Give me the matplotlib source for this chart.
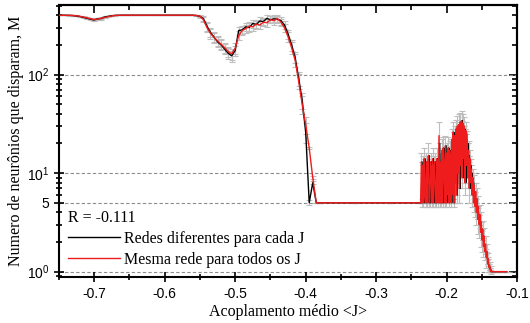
import numpy as np
import matplotlib
matplotlib.use("Agg")
import matplotlib.pyplot as plt
from matplotlib.ticker import FixedLocator, FixedFormatter, LogLocator, MultipleLocator, NullFormatter
from matplotlib.lines import Line2D

plt.rcParams['font.family'] = ['Liberation Serif', 'DejaVu Serif']

# --- data ---
# smooth part, J step 0.005 from -0.750 to -0.385
J_a = np.round(np.arange(-0.750, -0.3849, 0.005), 3)
same_a = [400, 400, 400, 399, 398, 395, 390, 383, 376, 368,
          362, 366, 373, 381, 388, 394, 398, 400, 400, 400,
          400, 400, 400, 400, 400, 400, 400, 400, 400, 400,
          400, 400, 400, 400, 400, 400, 400, 400, 400, 398,
          392, 360, 300, 262, 238, 220, 204, 188, 172, 162,
          185, 248, 280, 292, 310, 305, 325, 318, 340, 336,
          360, 352, 370, 340, 298, 242, 188, 140, 86, 50,
          31, 18, 9, 5]
diff_a = [400, 400, 400, 399, 397, 393, 388, 380, 372, 365,
          358, 368, 370, 384, 390, 395, 399, 400, 400, 400,
          400, 400, 400, 400, 400, 400, 400, 400, 400, 400,
          400, 400, 400, 400, 400, 400, 400, 400, 400, 397,
          390, 370, 310, 268, 240, 215, 200, 182, 165, 155,
          175, 280, 284, 305, 300, 330, 322, 350, 345, 372,
          360, 368, 365, 352, 318, 258, 200, 150, 92, 55,
          26, 5, 8, 5]
err_a = [1, 1, 1, 2, 3, 4, 6, 8, 9, 10,
         10, 10, 9, 8, 6, 4, 3, 2, 1, 1,
         1, 1, 1, 1, 1, 1, 1, 1, 1, 1,
         1, 1, 1, 1, 1, 1, 1, 1, 1, 5,
         12, 22, 30, 30, 28, 25, 24, 22, 20, 20,
         22, 26, 28, 30, 30, 30, 30, 30, 30, 30,
         30, 30, 30, 30, 30, 28, 25, 20, 15, 10,
         6, 0.3, 0.3, 0]

# flat part at M = 5
J_flat = [-0.380, -0.330, -0.280, -0.237]
same_flat = [5, 5, 5, 5]
diff_flat = [5, 5, 5, 5]

# noisy part, J step 0.001 from -0.236 to -0.136
J_c = np.round(np.arange(-0.236, -0.1355, 0.001), 3)
same_c = [13, 5, 12, 5, 14, 6, 5, 13, 5, 12,
          15, 5, 5, 13, 11, 5, 14, 5, 12, 13,
          5, 5, 14, 12, 5, 24, 5, 13, 5, 17,
          5, 18, 12, 5, 19, 5, 16, 6, 18, 5,
          17, 14, 5, 22, 6, 26, 5, 24, 8, 28,
          6, 30, 10, 31, 7, 33, 12, 34, 9, 32,
          14, 30, 8, 27, 12, 22, 9, 17, 7, 14,
          8, 11, 6, 9, 5, 7.5, 4.6, 6.5, 4, 5.5,
          3.4, 4.6, 3.0, 3.8, 2.5, 3.2, 2.1, 2.7, 1.8, 2.3,
          1.6, 1.9, 1.4, 1.6, 1.2, 1.35, 1.1, 1.15, 1.0, 1.05,
          1.0]
diff_c = [5, 13, 5, 12, 5, 14, 6, 5, 13, 5,
          12, 15, 5, 5, 13, 11, 5, 14, 5, 12,
          13, 5, 5, 14, 12, 5, 20, 5, 13, 5,
          17, 5, 18, 12, 5, 19, 5, 16, 6, 18,
          5, 17, 14, 5, 22, 6, 26, 5, 24, 8,
          28, 6, 30, 10, 31, 7, 33, 12, 34, 9,
          30, 14, 28, 8, 25, 12, 20, 9, 15, 7,
          12, 8, 10, 6, 8, 5, 6.5, 4.6, 5.5, 4,
          4.6, 3.4, 3.8, 3.0, 3.2, 2.5, 2.7, 2.1, 2.3, 1.8,
          1.9, 1.6, 1.6, 1.4, 1.35, 1.2, 1.15, 1.1, 1.05, 1.0,
          1.0]
err_c = [3, 0.5, 3, 0.5, 4, 1, 0.5, 3, 0.5, 3,
         5, 0.5, 0.5, 3, 3, 0.5, 4, 0.5, 3, 3,
         0.5, 0.5, 4, 3, 0.5, 9, 0.5, 3, 0.5, 5,
         0.5, 5, 3, 0.5, 5, 0.5, 4, 1, 5, 0.5,
         4, 4, 0.5, 6, 1, 7, 0.5, 6, 2, 7,
         1, 8, 2, 9, 2, 8, 3, 9, 2, 8,
         4, 7, 2, 6, 3, 5, 2, 4, 2, 3,
         2, 3, 1.5, 2, 1, 2, 1, 1.5, 1, 1.5,
         1, 1.2, 0.8, 1, 0.7, 0.8, 0.5, 0.6, 0.4, 0.5,
         0.3, 0.4, 0.3, 0.3, 0.2, 0.2, 0.1, 0.1, 0, 0.1,
         0]

# tail at M = 1
J_tail = [-0.130, -0.122, -0.115]
same_tail = [1, 1, 1]
diff_tail = [1, 1, 1]

grid_levels = [1, 5, 10, 100]
ytick_labels = [r'$\mathdefault{10^{0}}$', '5', r'$\mathdefault{10^{1}}$', r'$\mathdefault{10^{2}}$']
xticks = [-0.7, -0.6, -0.5, -0.4, -0.3, -0.2, -0.1]
xtick_labels = ['-0.7', '-0.6', '-0.5', '-0.4', '-0.3', '-0.2', '-0.1']
R_text = 'R = -0.111'
label_diff = 'Redes diferentes para cada J'
label_same = 'Mesma rede para todos os J'

J = np.concatenate([J_a, J_flat, J_c, J_tail])
M_same = np.concatenate([same_a, same_flat, same_c, same_tail])
M_diff = np.concatenate([diff_a, diff_flat, diff_c, diff_tail])
e_same = np.concatenate([err_a, np.zeros(len(J_flat)), err_c, np.zeros(len(J_tail))])
e_diff = np.concatenate([err_a, np.zeros(len(J_flat) + len(J_c) + len(J_tail))])

fig = plt.figure(figsize=(5.3, 3.23), dpi=100)
ax = fig.add_axes([0.111, 0.142, 0.865, 0.843])

for y in grid_levels:
    ax.axhline(y, color='#8c8c8c', lw=0.8, dashes=(3, 2), zorder=1)

gray = '#bebebe'
ax.errorbar(J, M_diff, yerr=e_diff, fmt='none', ecolor=gray, elinewidth=0.8,
            capsize=2, capthick=0.8, zorder=2)
ax.errorbar(J, M_same, yerr=e_same, fmt='none', ecolor=gray, elinewidth=0.8,
            capsize=2, capthick=0.8, zorder=2)
ax.plot(J, M_diff, color='black', lw=1.0, zorder=3)
ax.plot(J, M_same, color='#ee1c1c', lw=1.0, zorder=4)

ax.set_yscale('log')
ax.set_xlim(-0.75, -0.1)
ax.set_ylim(0.88, 510)

ax.set_xticks(xticks)
ax.set_xticklabels(xtick_labels)
ax.xaxis.set_minor_locator(MultipleLocator(0.05))
ax.yaxis.set_major_locator(FixedLocator(grid_levels))
ax.yaxis.set_major_formatter(FixedFormatter(ytick_labels))
ax.yaxis.set_minor_locator(LogLocator(base=10, subs=np.arange(2, 10)))
ax.yaxis.set_minor_formatter(NullFormatter())

for s in ax.spines.values():
    s.set_linewidth(1.5)
ax.tick_params(which='both', top=False, right=False, width=1.2)
ax.tick_params(which='major', direction='inout', length=7, labelsize=10)
ax.tick_params(which='minor', direction='inout', length=4)
for lab in ax.get_xticklabels() + ax.get_yticklabels():
    lab.set_fontfamily(['Liberation Sans', 'DejaVu Sans'])

# opposite sides: ticks pointing inward, no labels
top = ax.secondary_xaxis('top')
top.set_xticks(xticks)
top.xaxis.set_minor_locator(MultipleLocator(0.05))
top.tick_params(which='major', direction='in', length=6, width=1.2, labeltop=False)
top.tick_params(which='minor', direction='in', length=3.5, width=1.2)
top.spines['top'].set_linewidth(1.5)
right = ax.secondary_yaxis('right')
right.yaxis.set_major_locator(FixedLocator(grid_levels))
right.yaxis.set_minor_locator(LogLocator(base=10, subs=np.arange(2, 10)))
right.tick_params(which='major', direction='in', length=6, width=1.2, labelright=False)
right.tick_params(which='minor', direction='in', length=3.5, width=1.2)
right.spines['right'].set_linewidth(1.5)

ax.set_xlabel('Acoplamento médio <J>', fontsize=11.5, labelpad=2)
ax.set_ylabel('Numero de neurônios que disparam, M', fontsize=11.5, labelpad=2)

handles = [Line2D([], [], color='black', lw=1.0), Line2D([], [], color='#ee1c1c', lw=1.0)]
leg = ax.legend(handles, [label_diff, label_same], title=R_text, loc='lower left',
                frameon=False, fontsize=11.5, title_fontsize=11.5, handlelength=3.2,
                handletextpad=0.3, labelspacing=0.3, borderaxespad=0.2,
                alignment='left', bbox_to_anchor=(0.0, 0.0))

fig.savefig('out.png', dpi=100)
